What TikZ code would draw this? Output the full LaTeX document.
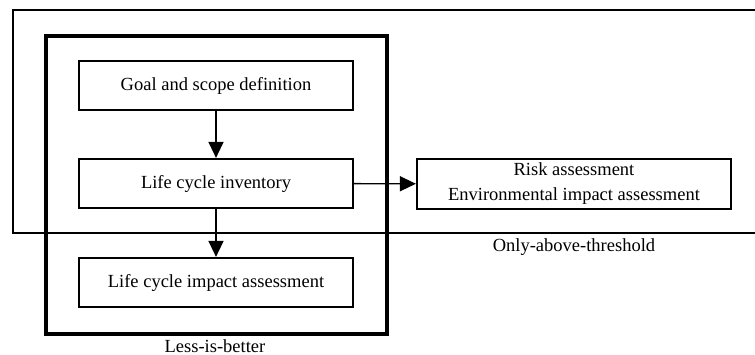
\documentclass[tikz,border=0pt]{standalone}
\usepackage{fontspec}
\setmainfont{Liberation Serif}
\usetikzlibrary{arrows.meta}
\tikzset{
  stage/.style={draw, line width=2.2pt, minimum width=274pt, minimum height=49pt, inner sep=0pt, font=\fontsize{18.5}{21}\selectfont},
  flow/.style={line width=1.4pt, -{Triangle[length=16pt,width=15pt]}},
  caption/.style={font=\fontsize{18.5}{21}\selectfont}
}
\begin{document}
\begin{tikzpicture}[x=1pt,y=-1pt]
\useasboundingbox (0,0) rectangle (755,355);
% outer frame (open on the right)
\draw[line width=2.2pt] (756,10) -- (13,10) -- (13,233) -- (756,233);
% less-is-better frame
\draw[line width=3.4pt] (46,36) rectangle (387,334);
% stages
\node[stage] (goal) at (216,85.5) {Goal and scope definition};
\node[stage] (lci) at (216,183.5) {Life cycle inventory};
\node[stage] (lcia) at (216,282.5) {Life cycle impact assessment};
\node[stage, minimum width=314pt, minimum height=50pt, align=center,
      font=\fontsize{18.5}{25}\selectfont] (risk) at (574,184)
  {Risk assessment\\Environmental impact assessment};
% connectors
\draw[flow] (goal) -- (lci);
\draw[flow] (lci) -- (lcia);
\draw[flow] (lci) -- (risk);
% captions
\node[caption] (above) at (574,247) {Only-above-threshold};
\node[caption] (less) at (215,346) {Less-is-better};
\end{tikzpicture}
\end{document}
